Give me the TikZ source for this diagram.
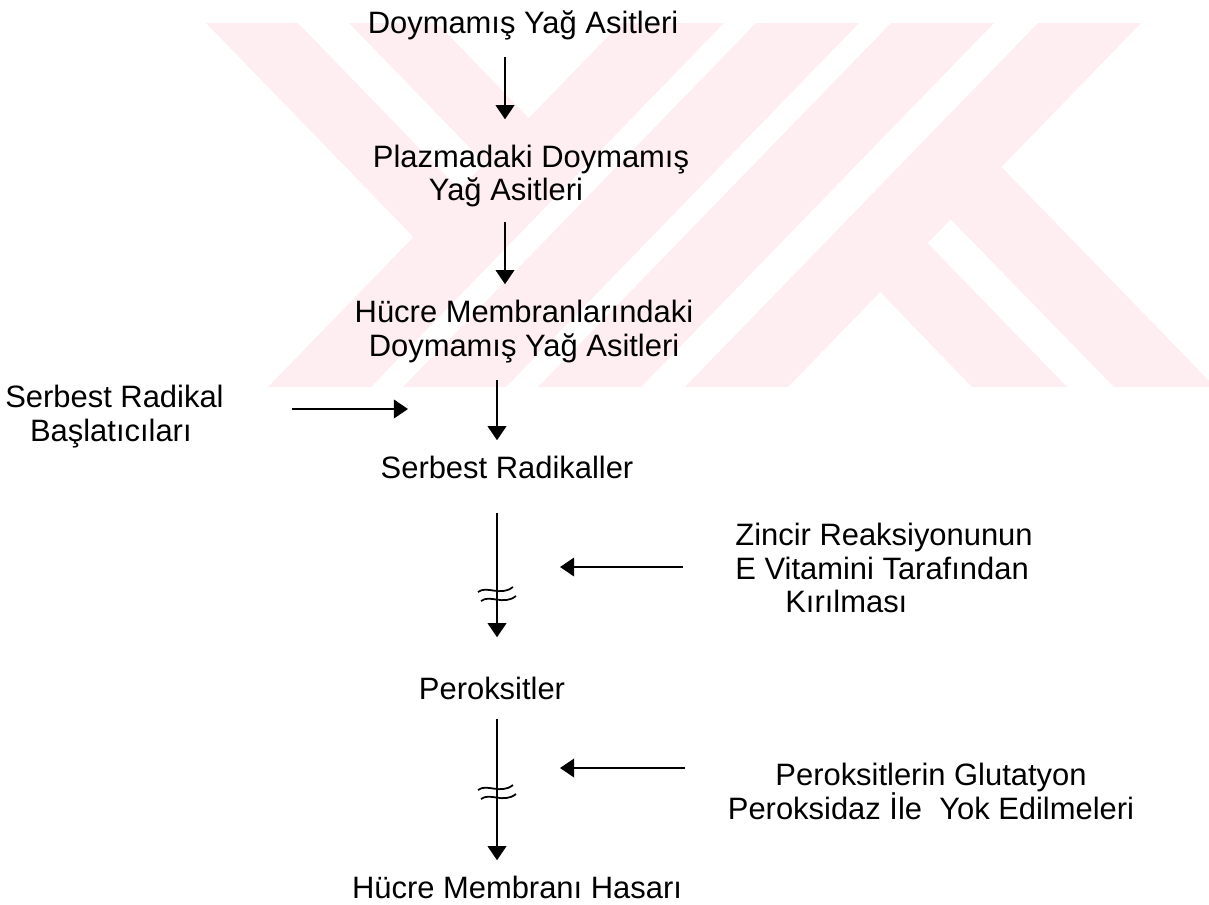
\documentclass[tikz,border=0pt]{standalone}
\usepackage{fontspec}
\setmainfont{Liberation Sans}
\usepackage{tikz}
\usetikzlibrary{arrows.meta}
\definecolor{filigran}{RGB}{254,237,241}

\begin{document}
\begin{tikzpicture}[x=0.02cm, y=-0.02cm,
  metin/.style={inner sep=0pt, font=\fontsize{17.6pt}{19.3pt}\selectfont},
  ok/.style={line width=1.2pt, -{Triangle[width=10.5pt,length=8pt]}},
  kirik/.style={line width=1pt}]

\useasboundingbox (0,0) rectangle (1209,904);

% Filigran (arka plan)
\foreach \x in {621,756,891,1038}
  \fill[filigran] (\x,23) -- ++(103,0) -- ++(-353,364) -- ++(-103,0) -- cycle;
\fill[filigran] (206,23) -- (298,23) -- (478,209) -- (433,257) -- cycle;
\fill[filigran] (349,23) -- (437,23) -- (548,138) -- (504,183) -- cycle;
\fill[filigran] (861,272) -- (908,223) -- (1067,387) -- (972,387) -- cycle;
\fill[filigran] (931,199) -- (982,147) -- (1215,387) -- (1114,387) -- cycle;

% Ana zincir
\node[metin, anchor=base] (doy) at (523,33) {Doymamış Yağ Asitleri};
\node[metin, align=center] (plz) at (531,176) {Plazmadaki Doymamış\\Yağ Asitleri\hspace*{1cm}};
\node[metin, align=center] (hcr) at (524,332) {Hücre Membranlarındaki\\Doymamış Yağ Asitleri};
\node[metin, anchor=base] (srb) at (507,478) {Serbest Radikaller};
\node[metin, anchor=base] (per) at (492,699) {Peroksitler};
\node[metin, anchor=base] (has) at (517,898) {Hücre Membranı Hasarı};

% Yan etkenler
\node[metin, align=left, anchor=west] (bas) at (5,417) {Serbest Radikal\\\hspace*{0.8em}Başlatıcıları};
\node[metin, align=left, anchor=west] (zin) at (735,568) {Zincir Reaksiyonunun\\E Vitamini Tarafından\\\hspace*{1cm}Kırılması};
\node[metin, align=center] (glu) at (931,791) {Peroksitlerin Glutatyon\\Peroksidaz İle~ Yok Edilmeleri};

\coordinate (ax1) at (505,0);
\coordinate (ax2) at (497,0);
\coordinate (bas-uc) at (408,409);
\coordinate (zin-uc) at (560,567);
\coordinate (glu-uc) at (560,768);
\coordinate (kir1) at (497,593);
\coordinate (kir2) at (497,791);

% Dikey oklar
\draw[ok, shorten <=0.35cm, shorten >=0.5cm] (doy.south -| ax1) -- (plz.north -| ax1);
\draw[ok, shorten <=0.29cm, shorten >=0.32cm] (plz.south -| ax1) -- (hcr.north -| ax1);
\draw[ok, shorten <=0.33cm, shorten >=0.3cm] (hcr.south -| ax2) -- (srb.north -| ax2);
\draw[ok, shorten <=0.68cm, shorten >=0.78cm] (srb.south -| ax2) -- (per.north -| ax2);
\draw[ok, shorten <=0.38cm, shorten >=0.3cm] (per.south -| ax2) -- (has.north -| ax2);

% Yatay oklar
\draw[ok, shorten <=1.36cm] (bas.east |- bas-uc) -- (bas-uc);
\draw[ok, shorten <=1.04cm] (zin.west |- zin-uc) -- (zin-uc);
\draw[ok, shorten <=0.86cm] (glu.west |- glu-uc) -- (glu-uc);

% Kirilma isaretleri
\foreach \k in {kir1,kir2} {
  \draw[kirik] ([shift={(-19,-1)}]\k) .. controls +(9,-7) and +(-13,10) .. +(35,-5);
  \draw[kirik] ([shift={(-16,8)}]\k) .. controls +(9,-7) and +(-13,10) .. +(35,-5);
}

\end{tikzpicture}
\end{document}
